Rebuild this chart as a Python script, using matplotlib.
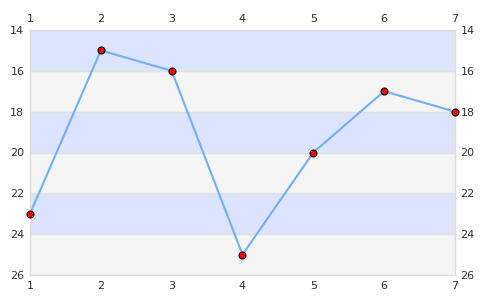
import matplotlib
matplotlib.use('Agg')
from matplotlib import pyplot as plt

x = [1, 2, 3, 4, 5, 6, 7]
y = [23, 15, 16, 25, 20, 17, 18]
bands = [(14, 16, '#dde4ff'), (16, 18, '#f5f5f5'), (18, 20, '#dde4ff'),
         (20, 22, '#f5f5f5'), (22, 24, '#dde4ff'), (24, 26, '#f5f5f5')]
yticks = [14, 16, 18, 20, 22, 24, 26]

fig = plt.figure(figsize=(4.85, 3), dpi=100)
ax = fig.add_axes([30 / 485, 25 / 300, 425 / 485, 245 / 300])

for lo, hi, c in bands:
    ax.axhspan(lo, hi, color=c, lw=0, zorder=0)
for t in yticks:
    ax.axhline(t, color='#e0e0e0', lw=1, zorder=1)

ax.plot(x, y, color='#70b0f5', lw=1.5, zorder=2, clip_on=False)
ax.plot(x, y, 'o', mfc='red', mec='black', mew=0.8, ms=5, zorder=3, clip_on=False)

ax.set_xlim(1, 7)
ax.set_ylim(26, 14)
ax.set_xticks(x)
ax.set_yticks(yticks)
ax.tick_params(length=0, labelsize=8, colors='#333333', pad=4,
               top=True, labeltop=True, right=True, labelright=True)
for s in ax.spines.values():
    s.set_color('#dddddd')
    s.set_linewidth(1)

fig.savefig('out.png', dpi=100)
